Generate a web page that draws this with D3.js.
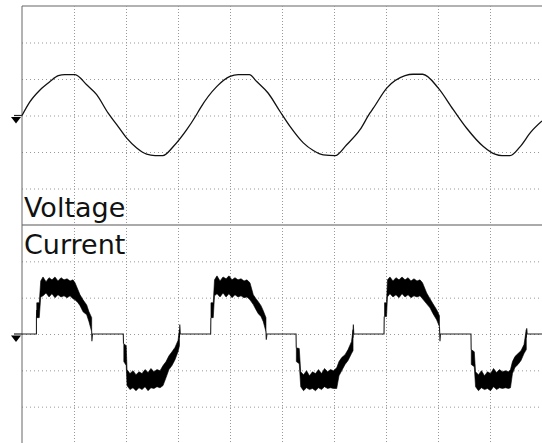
<!DOCTYPE html>
<html>
<head>
<meta charset="utf-8">
<script src="https://cdn.jsdelivr.net/npm/d3@7"></script>
<style>
	body { margin: 0; background: #fff; }
	.grid path { display: none; }
	.grid line { stroke: #999; }
	.hgrid line { stroke-dasharray: 1,3; }
	.vgrid line { stroke-dasharray: 1,2; }
	.label { font-family: "DejaVu Sans", sans-serif; font-size: 27px; fill: #111; }
</style>
</head>
<body>
<svg id="body" width="542" height="443"></svg>
<script>
// time in ms (5 ms / div), amplitudes in screen divisions
let gridTimes = [5, 10, 15, 20, 25, 30, 35, 40, 45]
let gridLevels = [-2, -1, 0, 1, 2]

let voltage = [[0,0],[0.77,0.38],[1.73,0.70],[2.69,0.93],[3.49,1.09],[4.13,1.12],[5.10,1.12],[6.22,0.84],[7.18,0.57],[8.27,0.07],
	[9.11,-0.25],[10.07,-0.62],[11.03,-0.89],[11.99,-1.06],[12.79,-1.10],[13.53,-1.10],[14.55,-0.85],[15.84,-0.39],[16.73,0.00],[17.12,0.19],
	[18.72,0.79],[20.0,1.07],[20.80,1.12],[21.86,1.12],[22.57,0.93],[23.68,0.61],[24.81,0.11],[25.77,-0.30],[27.05,-0.75],[28.01,-0.96],
	[28.97,-1.08],[30.10,-1.10],[31.22,-0.80],[32.50,-0.39],[33.46,0.07],[33.78,0.20],[35.07,0.75],[36.83,1.09],[37.6,1.13],[38.53,1.13],
	[40.03,0.75],[41.47,0.16],[42.76,-0.35],[44.36,-0.85],[45.48,-1.06],[46.15,-1.10],[46.92,-1.10],[47.88,-0.86],[48.94,-0.45],[50,-0.15]]

// thin current trace: zero level, edges and switching spikes (null = hidden under a band)
let currentTrace = [[0,0],[1.39,0],[1.39,0.45],[1.42,0.66],[1.5,null],[6.70,0.06],[6.72,-0.20],[6.78,0],
	[9.74,0],[9.76,-0.27],[9.8,null],[15.14,-0.1],[15.17,0.26],[15.22,0],
	[18.14,0],[18.16,0.45],[18.2,null],[23.46,0.06],[23.49,-0.16],[23.55,0],
	[26.35,0],[26.37,-0.38],[26.4,null],[31.83,-0.1],[31.86,0.26],[31.90,0],
	[34.81,0],[34.83,0.48],[34.9,null],[40.14,0.2],[40.19,-0.20],[40.24,0],
	[43.17,0],[43.19,-0.43],[43.3,null],[48.49,-0.1],[48.53,0.16],[48.57,0],[50,0]]

// noisy bands [t, top, bottom]
let pos1 = [[1.42,0.86,0.45],[1.66,0.86,0.45],[1.80,1.46,1.02],[2.02,1.57,1.05],[2.31,1.44,1.13],[2.60,1.55,1.02],[2.88,1.49,1.11],
	[3.17,1.57,1.00],[3.46,1.46,1.08],[3.75,1.55,1.02],[4.04,1.49,1.05],[4.33,1.52,1.00],[4.62,1.46,1.05],[4.90,1.49,0.97],
	[5.10,1.41,0.94],[5.38,1.22,0.86],[5.58,1.08,0.78],[5.87,0.94,0.61],[6.22,0.80,0.53],[6.44,0.61,0.34],[6.70,0.45,0.06]]
let neg1 = [[9.79,-0.27,-0.76],[10.02,-0.32,-0.87],[10.10,-0.98,-1.42],[10.38,-1.09,-1.53],[10.67,-1.01,-1.48],[10.96,-1.12,-1.56],
	[11.25,-1.04,-1.48],[11.54,-1.09,-1.53],[11.83,-0.98,-1.45],[12.12,-1.06,-1.56],[12.40,-0.95,-1.48],[12.69,-1.04,-1.50],
	[12.98,-0.98,-1.45],[13.27,-1.01,-1.48],[13.56,-0.87,-1.42],[13.85,-0.76,-1.20],[14.13,-0.60,-0.98],[14.42,-0.49,-0.87],
	[14.71,-0.37,-0.71],[15.00,-0.18,-0.49],[15.14,0.12,-0.32]]
let pos2 = [[18.17,0.86,0.45],[18.39,0.86,0.45],[18.51,1.49,1.05],[18.75,1.60,1.11],[19.04,1.46,1.02],[19.33,1.57,1.13],[19.62,1.52,1.02],
	[19.90,1.60,1.11],[20.19,1.49,1.00],[20.48,1.55,1.08],[20.77,1.49,1.02],[21.06,1.52,1.05],[21.35,1.46,1.00],[21.63,1.49,1.02],
	[21.92,1.41,0.94],[22.24,1.08,0.81],[22.50,0.97,0.67],[22.72,0.89,0.56],[22.98,0.78,0.48],[23.20,0.64,0.34],[23.46,0.45,0.06]]
let neg2 = [[26.38,-0.38,-0.76],[26.66,-0.40,-0.82],[26.80,-1.04,-1.45],[27.07,-1.12,-1.56],[27.36,-1.01,-1.48],[27.64,-1.15,-1.53],
	[27.93,-1.04,-1.50],[28.22,-1.09,-1.56],[28.51,-0.98,-1.48],[28.80,-1.09,-1.53],[29.09,-0.95,-1.45],[29.38,-1.04,-1.50],
	[29.66,-0.98,-1.48],[29.95,-1.01,-1.50],[30.26,-0.93,-1.50],[30.48,-0.76,-1.15],[30.74,-0.65,-1.01],[31.06,-0.57,-0.84],
	[31.35,-0.43,-0.73],[31.68,-0.21,-0.54],[31.83,0.12,-0.46]]
let pos3 = [[34.86,0.86,0.48],[35.05,0.86,0.48],[35.14,1.49,1.02],[35.38,1.57,1.11],[35.67,1.46,1.02],[35.96,1.55,1.08],[36.25,1.49,1.00],
	[36.54,1.57,1.11],[36.83,1.49,1.02],[37.12,1.55,1.08],[37.40,1.46,1.00],[37.69,1.52,1.05],[37.98,1.46,1.02],[38.27,1.49,1.05],
	[38.51,1.41,0.97],[38.91,1.13,0.83],[39.23,0.97,0.72],[39.52,0.83,0.56],[39.87,0.67,0.39],[40.14,0.50,0.20]]
let neg3 = [[43.20,-0.43,-0.84],[43.49,-0.49,-0.90],[43.61,-1.04,-1.45],[43.89,-1.12,-1.56],[44.18,-1.01,-1.48],[44.47,-1.15,-1.53],
	[44.76,-1.04,-1.50],[45.05,-1.09,-1.56],[45.34,-0.95,-1.45],[45.63,-1.06,-1.53],[45.91,-0.98,-1.48],[46.20,-1.04,-1.50],
	[46.49,-1.01,-1.48],[46.78,-1.04,-1.50],[46.97,-0.98,-1.48],[47.16,-0.76,-1.09],[47.40,-0.62,-0.92],[47.69,-0.54,-0.84],
	[47.98,-0.46,-0.73],[48.27,-0.29,-0.54],[48.49,0.12,-0.43]]
let bands = [pos1, neg1, pos2, neg2, pos3, neg3]

let body = d3.select("#body")

//scales
let plotLeft = 22, plotRight = 542, plotTop = 6, plotMid = 225, plotBottom = 443
let xscale = d3.scaleLinear().domain([0, 50]).range([plotLeft, plotRight])
let yV = d3.scaleLinear().domain([-3, 3]).range([plotMid, plotTop])
let yI = d3.scaleLinear().domain([-3, 3]).range([plotBottom, plotMid])

//grid
body.append("g")
	.attr("class", "grid vgrid")
	.attr("transform", "translate(0," + plotTop + ")")
	.call(d3.axisBottom(xscale).tickValues(gridTimes).tickSize(plotBottom - plotTop).tickFormat(""))

body.append("g")
	.attr("class", "grid hgrid")
	.attr("transform", "translate(" + plotLeft + ",0)")
	.call(d3.axisLeft(yV).tickValues(gridLevels).tickSize(-(plotRight - plotLeft)).tickFormat(""))

body.append("g")
	.attr("class", "grid hgrid")
	.attr("transform", "translate(" + plotLeft + ",0)")
	.call(d3.axisLeft(yI).tickValues(gridLevels).tickSize(-(plotRight - plotLeft)).tickFormat(""))

//frame
body.append("line").attr("x1", plotLeft).attr("x2", plotRight).attr("y1", plotTop).attr("y2", plotTop)
	.attr("stroke", "#999").attr("stroke-width", 1.5)
body.append("line").attr("x1", plotLeft).attr("x2", plotRight).attr("y1", plotMid).attr("y2", plotMid)
	.attr("stroke", "#aaa").attr("stroke-width", 2)
body.append("line").attr("x1", plotLeft).attr("x2", plotLeft).attr("y1", plotTop).attr("y2", plotBottom)
	.attr("stroke", "#666").attr("stroke-width", 1)

//labels
body.append("text").attr("class", "label").attr("x", 24).attr("y", 217).text("Voltage")
body.append("text").attr("class", "label").attr("x", 24).attr("y", 254).text("Current")

//voltage trace
let vLine = d3.line()
	.x(d => xscale(d[0]))
	.y(d => yV(d[1]))
	.curve(d3.curveMonotoneX)

body.append("path")
	.datum(voltage)
	.attr("d", vLine)
	.attr("fill", "none")
	.attr("stroke", "#111")
	.attr("stroke-width", 1.3)

//current trace
let iLine = d3.line()
	.defined(d => d[1] !== null)
	.x(d => xscale(d[0]))
	.y(d => yI(d[1]))

body.append("path")
	.datum(currentTrace)
	.attr("d", iLine)
	.attr("fill", "none")
	.attr("stroke", "#222")
	.attr("stroke-width", 1.1)

let iArea = d3.area()
	.x(d => xscale(d[0]))
	.y0(d => yI(d[2]))
	.y1(d => yI(d[1]))

body.append("g").selectAll("path")
	.data(bands)
	.enter()
	.append("path")
	.attr("d", iArea)
	.attr("fill", "#000")
	.attr("stroke", "#000")
	.attr("stroke-width", 0.6)

//ground markers
function marker(y0) {
	body.append("line").attr("x1", 14).attr("x2", plotLeft).attr("y1", y0).attr("y2", y0)
		.attr("stroke", "#222").attr("stroke-width", 1.2)
	body.append("path")
		.attr("d", "M11," + (y0 + 1.5) + "L21," + (y0 + 1.5) + "L16," + (y0 + 8) + "Z")
		.attr("fill", "#000")
}
marker(yV(0))
marker(yI(0))
</script>
</body>
</html>
